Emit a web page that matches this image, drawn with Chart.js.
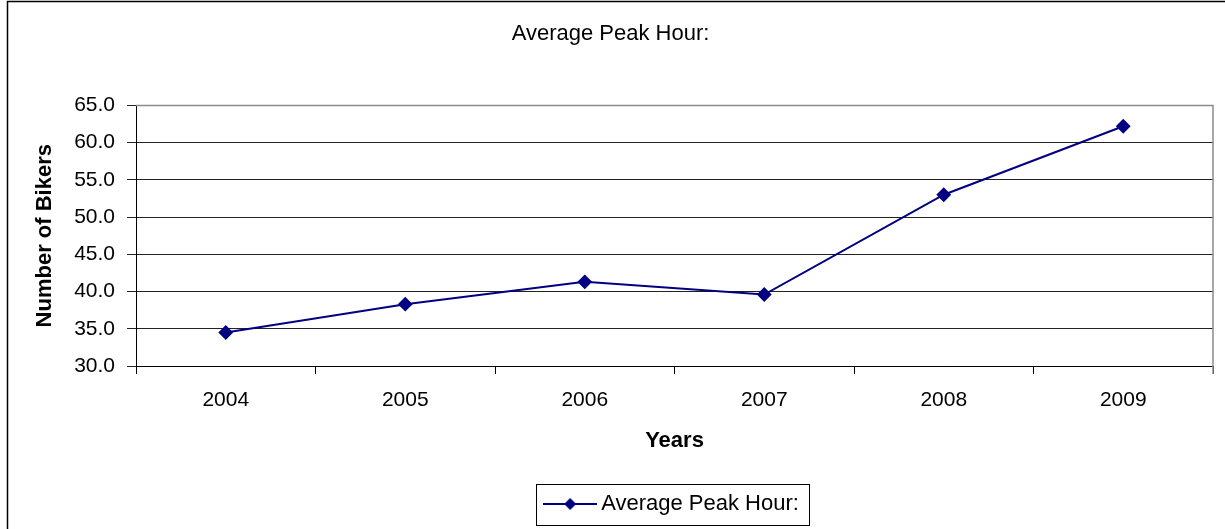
<!DOCTYPE html>
<html lang="en">
<head>
  <meta charset="UTF-8" />
  <title>Average Peak Hour</title>
  <script src="https://cdn.jsdelivr.net/npm/chart.js"></script>
  <style>
    body {
      margin: 0;
      background: #fff;
    }
    canvas {
      display: block;
    }
  </style>
</head>
<body>

  <canvas id="peakChart" width="1225" height="529"></canvas>

  <script>
    // values
    const years = ['2004', '2005', '2006', '2007', '2008', '2009'];
    const peakHour = [34.5, 38.3, 41.3, 39.6, 53.0, 62.2];
    const yMin = 30;
    const yMax = 65;
    const yStep = 5;

    const seriesName = 'Average Peak Hour:';
    const fontFamily = "'Liberation Sans', Arial, sans-serif";
    const navy = '#000080';

    // legend icon: short line with a diamond in the middle
    const legendIcon = document.createElement('canvas');
    legendIcon.width = 54;
    legendIcon.height = 14;
    (function () {
      const c = legendIcon.getContext('2d');
      c.strokeStyle = navy;
      c.lineWidth = 2;
      c.beginPath();
      c.moveTo(0, 7);
      c.lineTo(54, 7);
      c.stroke();
      c.fillStyle = navy;
      c.beginPath();
      c.moveTo(27, 1);
      c.lineTo(33, 7);
      c.lineTo(27, 13);
      c.lineTo(21, 7);
      c.closePath();
      c.fill();
    })();

    // centre the legend under the plot area instead of the whole canvas
    const legendCenter = {
      id: 'legendCenter',
      afterLayout(chart) {
        chart.legend.left = chart.chartArea.left;
        chart.legend.right = chart.chartArea.right;
      }
    };

    // frame lines, grey plot border and the box round the legend
    const frames = {
      id: 'frames',
      afterDraw(chart) {
        const ctx = chart.ctx;
        const area = chart.chartArea;
        ctx.save();

        ctx.strokeStyle = '#000';
        ctx.lineWidth = 1.5;
        ctx.beginPath();
        ctx.moveTo(7.5, chart.height);
        ctx.lineTo(7.5, 1.5);
        ctx.lineTo(chart.width, 1.5);
        ctx.stroke();

        ctx.strokeStyle = '#8c8c8c';
        ctx.lineWidth = 1.5;
        ctx.beginPath();
        ctx.moveTo(area.left, area.top);
        ctx.lineTo(area.right, area.top);
        ctx.lineTo(area.right, area.bottom + 8);
        ctx.stroke();

        const lg = chart.legend;
        ctx.font = '22px ' + fontFamily;
        const itemW = 40 + 11 + ctx.measureText(seriesName).width;
        const x = (lg.left + lg.right - itemW) / 2;
        const cy = lg.top + 10 + 11;
        ctx.strokeStyle = '#000';
        ctx.lineWidth = 1;
        ctx.strokeRect(Math.round(x - 14) + 0.5, Math.round(cy - 20) + 0.5,
          Math.round(itemW + 24), 41);

        ctx.restore();
      }
    };

    const ctx = document.getElementById('peakChart').getContext('2d');

    const peakChart = new Chart(ctx, {
      type: 'line',
      data: {
        labels: years,
        datasets: [{
          label: seriesName,
          data: peakHour,
          borderColor: navy,
          backgroundColor: navy,
          borderWidth: 2,
          pointStyle: 'rectRot',
          pointRadius: 6,
          pointHoverRadius: 6,
          tension: 0,
          fill: false
        }]
      },
      options: {
        responsive: false,
        animation: false,
        layout: {
          padding: { left: 8, right: 12, top: 8, bottom: 4 }
        },
        scales: {
          x: {
            offset: true,
            afterFit: (s) => { s.height = 117; },
            grid: {
              offset: true,
              drawOnChartArea: false,
              tickLength: 8,
              color: '#000'
            },
            border: { color: '#000', width: 1 },
            ticks: {
              color: '#000',
              padding: 14,
              maxRotation: 0,
              font: { family: fontFamily, size: 21 }
            },
            title: {
              display: true,
              text: 'Years',
              color: '#000',
              padding: { top: 0, bottom: 29 },
              font: { family: fontFamily, size: 22, weight: 'bold' }
            }
          },
          y: {
            min: yMin,
            max: yMax,
            afterFit: (s) => { s.width = 128; },
            grid: {
              color: '#222',
              tickLength: 9
            },
            border: { color: '#000', width: 1 },
            ticks: {
              stepSize: yStep,
              color: '#000',
              padding: 12,
              font: { family: fontFamily, size: 21 },
              callback: (v) => v.toFixed(1)
            },
            title: {
              display: true,
              text: 'Number of Bikers',
              color: '#000',
              padding: { top: 24, bottom: 0 },
              font: { family: fontFamily, size: 22, weight: 'bold' }
            }
          }
        },
        plugins: {
          title: {
            display: true,
            text: seriesName,
            color: '#000',
            padding: { top: 13, bottom: 58 },
            font: { family: fontFamily, size: 22, weight: 'normal' }
          },
          legend: {
            position: 'bottom',
            labels: {
              color: '#000',
              usePointStyle: true,
              pointStyleWidth: 40,
              padding: 10,
              font: { family: fontFamily, size: 22 },
              generateLabels: (chart) => {
                const items = Chart.defaults.plugins.legend.labels.generateLabels(chart);
                items.forEach(item => { item.pointStyle = legendIcon; });
                return items;
              }
            }
          },
          tooltip: { enabled: false }
        }
      },
      plugins: [legendCenter, frames]
    });
  </script>

</body>
</html>
